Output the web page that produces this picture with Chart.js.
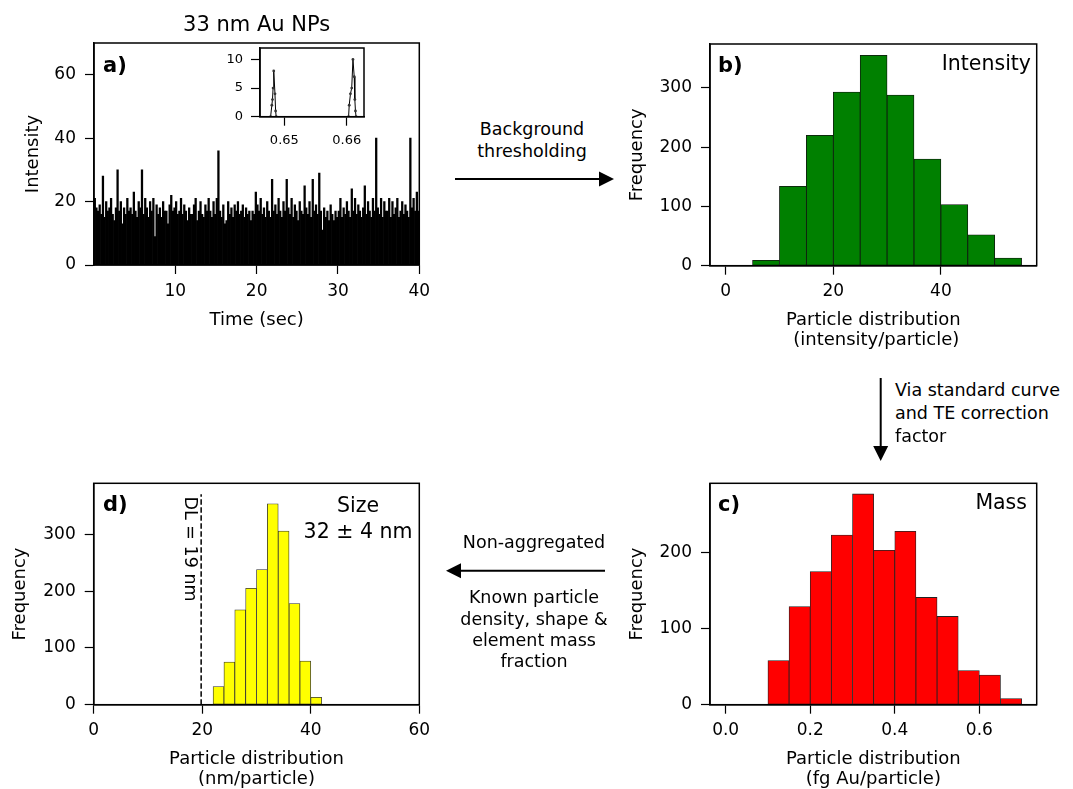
<!DOCTYPE html>
<html lang="en">
<head>
    <meta charset="UTF-8">
    <title>33 nm Au NPs - single particle workflow</title>
    <script src="https://cdn.jsdelivr.net/npm/chart.js"></script>
    <style>
        html, body { margin: 0; padding: 0; background: #fff; }
        body { width: 1073px; height: 789px; position: relative; overflow: hidden; font-family: "DejaVu Sans", sans-serif; color: #000; }
        canvas { position: absolute; }
        svg { position: absolute; left: 0; top: 0; }
        .txt { position: absolute; white-space: nowrap; line-height: 1; transform: translate(-50%, -50%); }
        .left { transform: translate(0, -50%); }
        .right { transform: translate(-100%, -50%); }
        .tag { font-weight: bold; font-size: 21px; }
        .note { font-size: 20.5px; }
        .flow { font-size: 17.5px; }
    </style>
</head>
<body>
    <canvas id="chartA" width="440" height="340" style="left:0;top:0"></canvas>
    <canvas id="chartInset" width="150" height="115" style="left:220px;top:40px"></canvas>
    <canvas id="chartB" width="473" height="360" style="left:600px;top:0"></canvas>
    <canvas id="chartC" width="473" height="349" style="left:600px;top:440px"></canvas>
    <canvas id="chartD" width="440" height="349" style="left:0;top:440px"></canvas>

    <!-- panel labels -->
    <div class="txt left tag" style="left:103px;top:65px">a)</div>
    <div class="txt left tag" style="left:718px;top:65px">b)</div>
    <div class="txt left tag" style="left:718px;top:504px">c)</div>
    <div class="txt left tag" style="left:103px;top:504px">d)</div>
    <div class="txt right note" style="left:1031px;top:63px">Intensity</div>
    <div class="txt right note" style="left:1027px;top:502px">Mass</div>
    <div class="txt note" style="left:358px;top:505px">Size</div>
    <div class="txt note" style="left:358px;top:531px">32 ± 4 nm</div>

    <!-- flow text -->
    <div class="txt flow" style="left:532px;top:130px">Background</div>
    <div class="txt flow" style="left:532px;top:152px">thresholding</div>
    <div class="txt left flow" style="left:895px;top:391px">Via standard curve</div>
    <div class="txt left flow" style="left:895px;top:414px">and TE correction</div>
    <div class="txt left flow" style="left:895px;top:437px">factor</div>
    <div class="txt flow" style="left:534px;top:543px">Non-aggregated</div>
    <div class="txt flow" style="left:534px;top:598px">Known particle</div>
    <div class="txt flow" style="left:534px;top:620px">density, shape &amp;</div>
    <div class="txt flow" style="left:534px;top:641px">element mass</div>
    <div class="txt flow" style="left:534px;top:662px">fraction</div>

    <svg width="1073" height="789">
        <line x1="455" y1="179" x2="600" y2="179" stroke="#000" stroke-width="2"/>
        <polygon points="599,171.5 614,179 599,186.5" fill="#000"/>
        <line x1="880.7" y1="378" x2="880.7" y2="447" stroke="#000" stroke-width="2"/>
        <polygon points="873.2,446 888.2,446 880.7,461" fill="#000"/>
        <line x1="605" y1="570.7" x2="460" y2="570.7" stroke="#000" stroke-width="2"/>
        <polygon points="461,563.2 461,578.2 446,570.7" fill="#000"/>
    </svg>

    <script>
        // a) raw time trace, one value per 0.2 s
        const traceStep = 0.2;
        const traceValues = [
            21,18,17,19,16,28,15,20,17,18,21,16,14,18,30,17,20,13,18,16,
            21,17,18,16,23,17,15,20,18,30,16,21,18,15,20,17,21,9,19,16,
            18,15,20,17,17,13,19,22,17,18,20,16,17,21,16,19,17,14,18,16,
            16,19,21,14,17,20,16,15,19,17,21,17,15,20,16,21,36,17,15,19,
            13,14,20,16,18,15,19,17,20,16,17,19,15,18,16,17,14,17,16,23,
            19,17,21,16,18,15,20,17,15,27,17,19,16,21,17,15,20,17,27,18,
            16,21,15,19,17,14,20,17,16,25,18,16,20,15,27,17,19,16,29,17,
            11,18,15,17,14,19,16,14,17,15,17,21,15,18,16,20,17,15,24,17,
            21,16,19,17,15,18,25,16,20,17,15,21,17,40,18,16,21,15,20,17,
            17,21,15,20,16,18,21,15,17,20,16,19,17,15,40,18,21,17,23,17
        ];
        const traceTicksX = [10, 20, 30, 40];
        const traceTicksY = [0, 20, 40, 60];

        // inset: two particle events
        const insetTime = [0.6478, 0.6480, 0.6481, 0.6482, 0.6483, 0.6485, 0.6486, 0.6487,
                           0.6603, 0.6604, 0.6606, 0.6608, 0.6610, 0.6612, 0.6613, 0.6614, 0.6615];
        const insetCounts = [0, 2, 3, 5, 8, 4, 1, 0,
                             0, 2, 4, 5, 10, 7, 3, 1, 0];
        const insetTicksX = [0.65, 0.66];
        const insetTicksY = [0, 5, 10];

        // b) intensity histogram
        const intensityEdges = [0, 5, 10, 15, 20, 25, 30, 35, 40, 45, 50, 55];
        const intensityCounts = [0, 9, 134, 220, 293, 355, 288, 180, 103, 52, 13];
        const intensityTicksX = [0, 20, 40];
        const intensityTicksY = [0, 100, 200, 300];

        // c) mass histogram
        const massEdges = [0.10, 0.15, 0.20, 0.25, 0.30, 0.35, 0.40, 0.45, 0.50, 0.55, 0.60, 0.65, 0.70];
        const massCounts = [58, 129, 175, 223, 277, 203, 228, 141, 116, 45, 39, 8];
        const massTicksX = [0.0, 0.2, 0.4, 0.6];
        const massTicksY = [0, 100, 200];

        // d) size histogram
        const sizeEdges = [22, 24, 26, 28, 30, 32, 34, 36, 38, 40, 42];
        const sizeCounts = [32, 75, 167, 205, 238, 354, 306, 178, 77, 13];
        const sizeTicksX = [0, 20, 40, 60];
        const sizeTicksY = [0, 100, 200, 300];
        const sizeDetectionLimit = 19.8;

        Chart.defaults.font.family = '"DejaVu Sans", sans-serif';
        Chart.defaults.color = '#000';

        // matplotlib-like box around the plot area
        Chart.register({
            id: 'frame',
            afterDatasetsDraw(chart) {
                const { ctx, chartArea: a } = chart;
                ctx.save();
                ctx.strokeStyle = '#000';
                ctx.lineWidth = 1.5;
                ctx.strokeRect(a.left, a.top, a.right - a.left, a.bottom - a.top);
                ctx.restore();
            }
        });

        function axis(o) {
            return {
                type: 'linear',
                min: o.min,
                max: o.max,
                offset: false,
                bounds: 'data',
                afterFit: s => {
                    if (s.isHorizontal()) s.height = o.size; else s.width = o.size;
                    s.paddingTop = s.paddingBottom = s.paddingLeft = s.paddingRight = 0;
                },
                afterBuildTicks: s => { s.ticks = o.ticks.map(v => ({ value: v })); },
                grid: { display: true, offset: false, drawOnChartArea: false, drawTicks: true, tickLength: 9, tickWidth: 1.2, tickColor: '#000' },
                border: { display: true, color: '#000', width: 1.5 },
                ticks: {
                    color: '#000', autoSkip: false, maxRotation: 0, minRotation: 0,
                    padding: o.pad,
                    font: { size: o.tickSize || 17 },
                    callback: o.fmt || (v => String(v))
                },
                title: o.title ? {
                    display: true, text: o.title, color: '#000',
                    font: { size: 18, lineHeight: o.lh || 1.2 },
                    padding: o.titlePad
                } : { display: false }
            };
        }

        function baseOptions(pad) {
            return {
                responsive: false,
                animation: false,
                devicePixelRatio: 1,
                layout: { padding: pad },
                plugins: { legend: { display: false }, tooltip: { enabled: false } }
            };
        }

        function histData(edges, counts) {
            return counts.map((c, i) => ({ x: (edges[i] + edges[i + 1]) / 2, y: c }));
        }

        function histDataset(edges, counts, fill, edge) {
            return {
                data: histData(edges, counts),
                backgroundColor: fill,
                borderColor: edge,
                borderWidth: 0.8,
                borderSkipped: false,
                barPercentage: 1,
                categoryPercentage: 1
            };
        }

        // a) time trace
        const optA = baseOptions({ left: 0, right: 20.7, top: 0, bottom: 0 });
        optA.plugins.title = {
            display: true, text: '33 nm Au NPs', fullSize: false, color: '#000',
            font: { size: 21, weight: 'normal' }, padding: { top: 13, bottom: 4.8 }
        };
        optA.scales = {
            x: axis({ min: 0, max: 40, ticks: traceTicksX, size: 75, pad: 7, title: 'Time (sec)', titlePad: { bottom: 9.2 } }),
            y: axis({ min: 0, max: 70, ticks: traceTicksY, size: 94, pad: 9, title: 'Intensity', titlePad: { top: 22.2 } })
        };
        new Chart(document.getElementById('chartA'), {
            type: 'bar',
            data: {
                datasets: [{
                    data: traceValues.map((v, i) => ({ x: (i + 0.5) * traceStep, y: v })),
                    backgroundColor: '#000',
                    borderWidth: 0,
                    barPercentage: 1,
                    categoryPercentage: 1
                }]
            },
            options: optA
        });

        // inset
        const optInset = baseOptions({ left: 0, right: 6, top: 8, bottom: 0 });
        optInset.scales = {
            x: axis({ min: 0.6461, max: 0.66277, ticks: insetTicksX, size: 38.3, pad: 7, tickSize: 13, fmt: v => v.toFixed(2) }),
            y: axis({ min: 0, max: 12, ticks: insetTicksY, size: 40, pad: 8, tickSize: 13 })
        };
        new Chart(document.getElementById('chartInset'), {
            type: 'line',
            data: {
                datasets: [{
                    data: insetTime.map((t, i) => ({ x: t, y: insetCounts[i] })),
                    borderColor: '#000',
                    borderWidth: 1,
                    pointRadius: 1.4,
                    pointBorderWidth: 0,
                    pointBackgroundColor: '#333',
                    tension: 0
                }]
            },
            options: optInset
        });

        // b) intensity
        const optB = baseOptions({ left: 0, right: 36.3, top: 44, bottom: 0 });
        optB.scales = {
            x: axis({ min: -2.9, max: 57.8, ticks: intensityTicksX, size: 94.3, pad: 7,
                      title: ['Particle distribution', ' (intensity/particle)'], lh: 1.111, titlePad: { bottom: 10 } }),
            y: axis({ min: 0, max: 374, ticks: intensityTicksY, size: 110, pad: 9, title: 'Frequency', titlePad: { top: 26.5 } })
        };
        new Chart(document.getElementById('chartB'), {
            type: 'bar',
            data: { datasets: [histDataset(intensityEdges, intensityCounts, '#008000', '#111')] },
            options: optB
        });

        // c) mass
        const optC = baseOptions({ left: 0, right: 36.3, top: 43.3, bottom: 0 });
        optC.scales = {
            x: axis({ min: -0.037, max: 0.7356, ticks: massTicksX, size: 84.3, pad: 6.5, fmt: v => v.toFixed(1),
                      title: ['Particle distribution', '(fg Au/particle)'], lh: 1.111, titlePad: { bottom: 0 } }),
            y: axis({ min: 0, max: 291, ticks: massTicksY, size: 110, pad: 9, title: 'Frequency', titlePad: { top: 26.5 } })
        };
        new Chart(document.getElementById('chartC'), {
            type: 'bar',
            data: { datasets: [histDataset(massEdges, massCounts, '#ff0000', '#222')] },
            options: optC
        });

        // d) size
        const optD = baseOptions({ left: 0, right: 20.7, top: 43.3, bottom: 0 });
        optD.scales = {
            x: axis({ min: 0, max: 60, ticks: sizeTicksX, size: 84.3, pad: 6.5,
                      title: ['Particle distribution', '(nm/particle)'], lh: 1.111, titlePad: { bottom: 0 } }),
            y: axis({ min: 0, max: 390, ticks: sizeTicksY, size: 93.7, pad: 9, title: 'Frequency', titlePad: { top: 9.9 } })
        };
        new Chart(document.getElementById('chartD'), {
            type: 'bar',
            data: { datasets: [histDataset(sizeEdges, sizeCounts, '#ffff00', '#333')] },
            options: optD,
            plugins: [{
                id: 'detectionLimit',
                afterDatasetsDraw(chart) {
                    const { ctx, chartArea: a, scales: { x } } = chart;
                    const px = x.getPixelForValue(sizeDetectionLimit);
                    const h = a.bottom - a.top;
                    ctx.save();
                    ctx.strokeStyle = '#000';
                    ctx.lineWidth = 1.5;
                    ctx.setLineDash([5.5, 2.5]);
                    ctx.beginPath();
                    ctx.moveTo(px, a.bottom);
                    ctx.lineTo(px, a.bottom - 0.95 * h);
                    ctx.stroke();
                    ctx.setLineDash([]);
                    ctx.translate(px - 11.5, a.top + 0.297 * h);
                    ctx.rotate(Math.PI / 2);
                    ctx.font = '17.5px "DejaVu Sans"';
                    ctx.fillStyle = '#000';
                    ctx.textAlign = 'center';
                    ctx.textBaseline = 'middle';
                    ctx.fillText('DL = 19 nm', 0, 0);
                    ctx.restore();
                }
            }]
        });
    </script>
</body>
</html>
